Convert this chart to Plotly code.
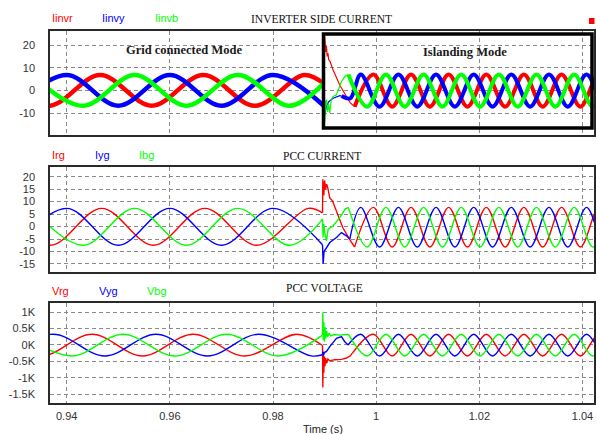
import plotly.graph_objects as go

# ---------------- axis / label data ----------------
X_RANGE = [0.93677, 1.04223]
X_TICKS = [0.94, 0.96, 0.98, 1.0, 1.02, 1.04]
X_TICK_TEXT = ["0.94", "0.96", "0.98", "1", "1.02", "1.04"]
X_TITLE = "Time (s)"

P1_Y_RANGE = [-19.7, 26.2]
P1_Y_TICKS = [20, 10, 0, -10]
P1_Y_TICK_TEXT = ["20", "10", "0", "-10"]
P2_Y_RANGE = [-18.1, 24.0]
P2_Y_TICKS = [20, 15, 10, 5, 0, -5, -10, -15]
P2_Y_TICK_TEXT = ["20", "15", "10", "5", "0", "-5", "-10", "-15"]
P3_Y_RANGE = [-1766, 1275]
P3_Y_TICKS = [1000, 500, 0, -500, -1000, -1500]
P3_Y_TICK_TEXT = ["1K", "0.5K", "0K", "-0.5K", "-1K", "-1.5K"]

PANEL_TITLES = ["INVERTER SIDE CURRENT", "PCC CURRENT", "PCC VOLTAGE"]
P1_NAMES = ["Iinvr", "Iinvy", "Iinvb"]
P2_NAMES = ["Irg", "Iyg", "Ibg"]
P3_NAMES = ["Vrg", "Vyg", "Vbg"]
MODE_LABELS = ["Grid connected Mode", "Islanding Mode"]

# ---------------- Panel 1: inverter side current (A) ----------------
P1_R_GRID_T = [0.9265, 0.9365, 0.9465, 0.9565, 0.9665, 0.9765, 0.9860, 0.98985]
P1_R_GRID_Y = [6.8, -6.8, 6.8, -6.8, 6.8, -6.8, 6.8, 3.0]
P1_Y_GRID_T = [0.9300, 0.9400, 0.9500, 0.9600, 0.9700, 0.9800, 0.98985]
P1_Y_GRID_Y = [-6.8, 6.8, -6.8, 6.8, -6.8, 6.8, -6.8]
P1_B_GRID_T = [0.9332, 0.9432, 0.9532, 0.9632, 0.9732, 0.9832, 0.98985]
P1_B_GRID_Y = [6.8, -6.8, 6.8, -6.8, 6.8, -6.8, 3.2]

P1_R_TR_T = [0.98985, 0.99004, 0.99020, 0.99037, 0.99050, 0.99065, 0.99080, 0.99101,
             0.99166, 0.99294, 0.99424, 0.99500, 0.99582]
P1_R_TR_Y = [3.0, 23.7, 17.0, 19.5, 15.0, 16.5, 13.5, 13.0, 9.0, 2.4, -2.7, -5.5, -7.2]
P1_Y_TR_T = [0.98985, 0.99004, 0.99037, 0.99080, 0.99166, 0.99294, 0.99330]
P1_Y_TR_Y = [-6.8, -11.0, -7.0, -5.0, -3.5, -2.3, -2.5]
P1_B_TR_T = [0.98985, 0.99004, 0.99020, 0.99037, 0.99060, 0.99080, 0.99100, 0.99130,
             0.99166, 0.99230, 0.99327, 0.99400, 0.99461]
P1_B_TR_Y = [3.2, -13.7, -5.0, -4.2, -9.5, -6.0, -10.0, -4.0, -2.7, -2.0, 3.9, 6.3, 7.0]

P1_R_ISL_T = [0.99582, 0.99946, 1.00311, 1.00676, 1.01041, 1.01405, 1.01770, 1.02135,
              1.02500, 1.02864, 1.03229, 1.03594, 1.03959, 1.04323, 1.04688]
P1_R_ISL_Y = [-7.2, 7.0, -7.2, 7.0, -7.2, 7.0, -7.2, 7.0, -7.2, 7.0, -7.2, 7.0, -7.2, 7.0, -7.2]
P1_Y_ISL_T = [0.99330, 0.99500, 0.99702, 1.00067, 1.00432, 1.00797, 1.01161, 1.01526,
              1.01891, 1.02256, 1.02620, 1.02985, 1.03350, 1.03715, 1.04079, 1.04444, 1.04809]
P1_Y_ISL_Y = [-2.5, -3.5, 7.0, -7.2, 7.0, -7.2, 7.0, -7.2, 7.0, -7.2, 7.0, -7.2, 7.0, -7.2,
              7.0, -7.2, 7.0]
P1_B_ISL_T = [0.99461, 0.99826, 1.00190, 1.00555, 1.00920, 1.01285, 1.01649, 1.02014,
              1.02379, 1.02744, 1.03108, 1.03473, 1.03838, 1.04203, 1.04567]
P1_B_ISL_Y = [7.0, -7.2, 7.0, -7.2, 7.0, -7.2, 7.0, -7.2, 7.0, -7.2, 7.0, -7.2, 7.0, -7.2, 7.0]

# ---------------- Panel 2: PCC current (A) ----------------
P2_R_GRID_T = [0.9268, 0.9368, 0.9468, 0.9568, 0.9668, 0.9768, 0.9868, 0.98960]
P2_R_GRID_Y = [7.3, -7.5, 7.3, -7.5, 7.3, -7.5, 7.3, 5.5]
P2_Y_GRID_T = [0.9300, 0.9400, 0.9500, 0.9600, 0.9700, 0.9800, 0.98960]
P2_Y_GRID_Y = [-7.5, 7.3, -7.5, 7.3, -7.5, 7.3, -7.3]
P2_B_GRID_T = [0.9332, 0.9432, 0.9532, 0.9632, 0.9732, 0.9832, 0.98960]
P2_B_GRID_Y = [7.3, -7.5, 7.3, -7.5, 7.3, -7.5, 3.0]

P2_R_TR_T = [0.98960, 0.98966, 0.98985, 0.99000, 0.99020, 0.99040, 0.99062, 0.99100,
             0.99153, 0.99250, 0.99352, 0.99482, 0.99582]
P2_R_TR_Y = [5.5, 19.0, 12.5, 18.5, 15.0, 17.0, 15.5, 11.5, 10.3, 5.0, -0.4, -5.0, -8.2]
P2_Y_TR_T = [0.98960, 0.98972, 0.98990, 0.99037, 0.99101, 0.99231, 0.99327, 0.99424, 0.99488]
P2_Y_TR_Y = [-7.3, -15.0, -10.0, -8.4, -6.4, -4.4, -2.4, -3.7, -5.0]
P2_B_TR_T = [0.98960, 0.98972, 0.98985, 0.99000, 0.99037, 0.99069, 0.99166, 0.99294,
             0.99400, 0.99461]
P2_B_TR_Y = [3.0, -4.4, 1.0, -2.0, -5.7, -1.0, 0.3, 3.6, 7.0, 7.7]

P2_R_ISL_T = [0.99582, 0.99946, 1.00311, 1.00676, 1.01041, 1.01405, 1.01770, 1.02135,
              1.02500, 1.02864, 1.03229, 1.03594, 1.03959, 1.04323, 1.04688]
P2_R_ISL_Y = [-8.2, 7.7, -8.2, 7.7, -8.2, 7.7, -8.2, 7.7, -8.2, 7.7, -8.2, 7.7, -8.2, 7.7, -8.2]
P2_Y_ISL_T = [0.99488, 0.99702, 1.00067, 1.00432, 1.00797, 1.01161, 1.01526, 1.01891,
              1.02256, 1.02620, 1.02985, 1.03350, 1.03715, 1.04079, 1.04444, 1.04809]
P2_Y_ISL_Y = [-5.0, 7.7, -8.2, 7.7, -8.2, 7.7, -8.2, 7.7, -8.2, 7.7, -8.2, 7.7, -8.2, 7.7,
              -8.2, 7.7]
P2_B_ISL_T = [0.99461, 0.99826, 1.00190, 1.00555, 1.00920, 1.01285, 1.01649, 1.02014,
              1.02379, 1.02744, 1.03108, 1.03473, 1.03838, 1.04203, 1.04567]
P2_B_ISL_Y = [7.7, -8.2, 7.7, -8.2, 7.7, -8.2, 7.7, -8.2, 7.7, -8.2, 7.7, -8.2, 7.7, -8.2, 7.7]

# ---------------- Panel 3: PCC voltage (V) ----------------
P3_R_GRID_T = [0.9253, 0.9351, 0.9449, 0.9547, 0.9645, 0.9745, 0.9846, 0.98960]
P3_R_GRID_Y = [330, -335, 330, -335, 330, -335, 330, -15]
P3_Y_GRID_T = [0.9275, 0.9374, 0.9474, 0.9573, 0.9673, 0.9772, 0.9874, 0.98960]
P3_Y_GRID_Y = [-335, 330, -335, 330, -335, 330, -335, -300]
P3_B_GRID_T = [0.9311, 0.9410, 0.9509, 0.9610, 0.9710, 0.9810, 0.98960]
P3_B_GRID_Y = [330, -335, 330, -335, 330, -335, 300]

P3_R_TR_T = [0.98960, 0.98966, 0.98975, 0.98985, 0.98995, 0.99008, 0.99022, 0.99040,
             0.99065, 0.99100, 0.99200, 0.99330, 0.99424, 0.99500, 0.99540]
P3_R_TR_Y = [-15, -1300, -300, -850, -350, -650, -400, -560, -430, -480, -450, -440, -400,
             -330, -250]
P3_Y_TR_T = [0.98960, 0.98970, 0.98980, 0.98995, 0.99037, 0.99101, 0.99230, 0.99327,
             0.99391, 0.99457]
P3_Y_TR_Y = [-300, -200, -320, -230, -200, -50, 205, 255, 100, 0]
P3_B_TR_T = [0.98960, 0.98966, 0.98975, 0.98985, 0.98995, 0.99008, 0.99022, 0.99040,
             0.99060, 0.99085, 0.99120, 0.99180, 0.99300, 0.99400, 0.99461]
P3_B_TR_Y = [300, 1000, 150, 700, 100, 550, 200, 430, 250, 360, 280, 320, 300, 320, 330]

P3_R_ISL_T = [0.99540, 0.99946, 1.00311, 1.00676, 1.01041, 1.01405, 1.01770, 1.02135,
              1.02500, 1.02864, 1.03229, 1.03594, 1.03959, 1.04323, 1.04688]
P3_R_ISL_Y = [-250, 330, -335, 330, -335, 330, -335, 330, -335, 330, -335, 330, -335, 330, -335]
P3_Y_ISL_T = [0.99457, 0.99702, 1.00067, 1.00432, 1.00797, 1.01161, 1.01526, 1.01891,
              1.02256, 1.02620, 1.02985, 1.03350, 1.03715, 1.04079, 1.04444, 1.04809]
P3_Y_ISL_Y = [0, 330, -335, 330, -335, 330, -335, 330, -335, 330, -335, 330, -335, 330,
              -335, 330]
P3_B_ISL_T = [0.99461, 0.99826, 1.00190, 1.00555, 1.00920, 1.01285, 1.01649, 1.02014,
              1.02379, 1.02744, 1.03108, 1.03473, 1.03838, 1.04203, 1.04567]
P3_B_ISL_Y = [330, -335, 330, -335, 330, -335, 330, -335, 330, -335, 330, -335, 330, -335, 330]

# ---------------- styles ----------------
RED, BLUE, GREEN = "#ff0000", "#0000ff", "#00ff00"
W = 597
H = 434
SANS = "Liberation Sans, Arial, sans-serif"
SERIF = "Liberation Serif, Times New Roman, serif"

fig = go.Figure()


def add(t, y, ax, color, width, shape):
    fig.add_trace(go.Scatter(
        x=t, y=y, mode="lines", xaxis="x" + ax, yaxis="y" + ax,
        line=dict(color=color, width=width, shape=shape, smoothing=1),
        showlegend=False, hoverinfo="skip"))


# panel 1 (thick switching-ripple band in steady state)
TW = 4.5
for t, y, c in [(P1_R_GRID_T, P1_R_GRID_Y, RED), (P1_Y_GRID_T, P1_Y_GRID_Y, BLUE),
                (P1_B_GRID_T, P1_B_GRID_Y, GREEN)]:
    add(t, y, "", c, TW, "spline")
for t, y, c in [(P1_R_TR_T, P1_R_TR_Y, RED), (P1_Y_TR_T, P1_Y_TR_Y, BLUE),
                (P1_B_TR_T, P1_B_TR_Y, GREEN)]:
    add(t, y, "", c, 1.2, "linear")
for t, y, c in [(P1_R_ISL_T, P1_R_ISL_Y, RED), (P1_Y_ISL_T, P1_Y_ISL_Y, BLUE),
                (P1_B_ISL_T, P1_B_ISL_Y, GREEN)]:
    add(t, y, "", c, TW - 0.5, "spline")

# panels 2 and 3
LW = 1.4
for ax, sets in [("2", [(P2_R_GRID_T, P2_R_GRID_Y, P2_R_TR_T, P2_R_TR_Y, P2_R_ISL_T, P2_R_ISL_Y, RED),
                        (P2_Y_GRID_T, P2_Y_GRID_Y, P2_Y_TR_T, P2_Y_TR_Y, P2_Y_ISL_T, P2_Y_ISL_Y, BLUE),
                        (P2_B_GRID_T, P2_B_GRID_Y, P2_B_TR_T, P2_B_TR_Y, P2_B_ISL_T, P2_B_ISL_Y, GREEN)]),
                 ("3", [(P3_R_GRID_T, P3_R_GRID_Y, P3_R_TR_T, P3_R_TR_Y, P3_R_ISL_T, P3_R_ISL_Y, RED),
                        (P3_Y_GRID_T, P3_Y_GRID_Y, P3_Y_TR_T, P3_Y_TR_Y, P3_Y_ISL_T, P3_Y_ISL_Y, BLUE),
                        (P3_B_GRID_T, P3_B_GRID_Y, P3_B_TR_T, P3_B_TR_Y, P3_B_ISL_T, P3_B_ISL_Y, GREEN)])]:
    for gt, gy, tt, ty, it, iy, c in sets:
        add(gt, gy, ax, c, LW, "spline")
        add(tt, ty, ax, c, LW, "linear")
        add(it, iy, ax, c, LW, "spline")


def px_x(p):
    return p / W


def px_y(p):
    return 1 - p / H


X_DOMAIN = [px_x(50), px_x(594)]
DOMAINS = [[px_y(135), px_y(31)], [px_y(271.7), px_y(166.7)], [px_y(402.7), px_y(303.3)]]

grid_style = dict(showgrid=True, gridcolor="#8a8a8a", gridwidth=1, griddash="4px,3px",
                  zeroline=False, showline=True, linecolor="#2a2a2a", linewidth=1.5,
                  mirror=True, ticks="", ticklen=0, automargin=False,
                  tickfont=dict(family=SANS, size=11, color="#333333"))

layout = dict(width=W, height=H, margin=dict(l=0, r=0, t=0, b=0),
              paper_bgcolor="white", plot_bgcolor="white", template="none",
              showlegend=False)

yranges = [P1_Y_RANGE, P2_Y_RANGE, P3_Y_RANGE]
yticks = [(P1_Y_TICKS, P1_Y_TICK_TEXT), (P2_Y_TICKS, P2_Y_TICK_TEXT), (P3_Y_TICKS, P3_Y_TICK_TEXT)]
for i, suffix in enumerate(["", "2", "3"]):
    layout["xaxis" + suffix] = dict(
        grid_style, domain=X_DOMAIN, range=X_RANGE, tickvals=X_TICKS, ticktext=X_TICK_TEXT,
        anchor="y" + suffix, showticklabels=(i == 2), ticklabelstandoff=2)
    layout["yaxis" + suffix] = dict(
        grid_style, domain=DOMAINS[i], range=yranges[i], tickvals=yticks[i][0],
        ticktext=yticks[i][1], anchor="x" + suffix, ticklabelstandoff=11)

fig.update_layout(**layout)

ann = []
# panel titles
for title, cx, cy in zip(PANEL_TITLES, [321, 322, 325], [19, 156, 288]):
    ann.append(dict(text=title, x=px_x(cx), y=px_y(cy), xref="paper", yref="paper",
                    xanchor="center", yanchor="middle", showarrow=False,
                    font=dict(family=SERIF, size=11.5, color="#111111")))
# series labels
for names, xs, cy in [(P1_NAMES, [50, 100, 153], 18), (P2_NAMES, [50, 93, 137], 155),
                      (P3_NAMES, [50, 97, 145], 291)]:
    for name, x0, col in zip(names, xs, [RED, BLUE, GREEN]):
        ann.append(dict(text=name, x=px_x(x0), y=px_y(cy), xref="paper", yref="paper",
                        xanchor="left", yanchor="middle", showarrow=False,
                        font=dict(family=SANS, size=11, color=col)))
# mode labels
for lab, cx, cy in zip(MODE_LABELS, [184, 465], [50, 52]):
    ann.append(dict(text="<b>" + lab + "</b>", x=px_x(cx), y=px_y(cy), xref="paper",
                    yref="paper", xanchor="center", yanchor="middle", showarrow=False,
                    font=dict(family=SERIF, size=12.5, color="#1a1a1a")))
# x axis title
ann.append(dict(text=X_TITLE, x=px_x(323), y=px_y(429), xref="paper", yref="paper",
                xanchor="center", yanchor="middle", showarrow=False,
                font=dict(family=SANS, size=11, color="#222222")))

shapes = [
    dict(type="rect", xref="paper", yref="paper", x0=px_x(323.5), x1=px_x(592),
         y0=px_y(128), y1=px_y(34), line=dict(color="black", width=3.5)),
    dict(type="rect", xref="paper", yref="paper", x0=px_x(589), x1=px_x(594.5),
         y0=px_y(24), y1=px_y(18), line=dict(width=0), fillcolor="#ff0000"),
]
fig.update_layout(annotations=ann, shapes=shapes)

fig.write_html("out.html")
